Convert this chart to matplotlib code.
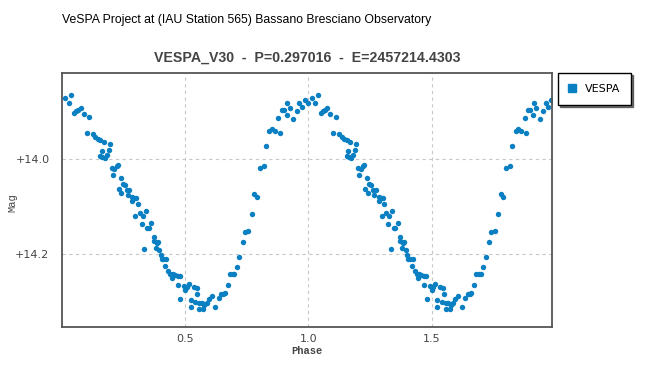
import matplotlib.pyplot as plt
from matplotlib.lines import Line2D
from matplotlib.ticker import FuncFormatter

# folded light curve of VESPA_V30, phase 0..1 (plotted twice)
phase = [0.0135, 0.027, 0.038, 0.050, 0.058, 0.066, 0.076, 0.088, 0.111, 0.101,
         0.124, 0.135, 0.145, 0.155, 0.169, 0.193, 0.161, 0.189, 0.155, 0.164,
         0.174, 0.182, 0.203, 0.212, 0.223, 0.227, 0.205, 0.238, 0.247, 0.254,
         0.230, 0.241, 0.264, 0.273, 0.266, 0.285, 0.293, 0.301, 0.286, 0.309,
         0.297, 0.315, 0.328, 0.339, 0.324, 0.346, 0.353, 0.362, 0.374, 0.372,
         0.385, 0.389, 0.382, 0.334, 0.395, 0.401, 0.404, 0.412, 0.423, 0.420,
         0.432, 0.439, 0.446, 0.450, 0.459, 0.469, 0.477, 0.469, 0.481, 0.495,
         0.500, 0.507, 0.516, 0.534, 0.547, 0.549, 0.524, 0.541, 0.522, 0.558,
         0.568, 0.577, 0.558, 0.574, 0.588, 0.597, 0.609, 0.622, 0.636, 0.646,
         0.655, 0.662, 0.673, 0.682, 0.693, 0.699, 0.709, 0.720, 0.734, 0.743,
         0.757, 0.770, 0.781, 0.792, 0.804, 0.818, 0.828, 0.842, 0.851, 0.865,
         0.885, 0.878, 0.892, 0.901, 0.912, 0.915, 0.926, 0.939, 0.953, 0.964,
         0.973, 0.986, 0.999]
mag = [13.872, 13.883, 13.867, 13.904, 13.900, 13.897, 13.893, 13.907, 13.912, 13.947,
       13.949, 13.954, 13.959, 13.961, 13.966, 13.970, 13.984, 13.981, 13.995, 13.996,
       13.998, 13.993, 14.020, 14.021, 14.016, 14.013, 14.035, 14.042, 14.053, 14.056,
       14.065, 14.072, 14.067, 14.067, 14.077, 14.081, 14.082, 14.084, 14.090, 14.095,
       14.121, 14.114, 14.120, 14.110, 14.138, 14.146, 14.147, 14.135, 14.166, 14.173,
       14.177, 14.176, 14.188, 14.191, 14.192, 14.204, 14.211, 14.211, 14.211, 14.226,
       14.236, 14.242, 14.252, 14.244, 14.246, 14.247, 14.247, 14.267, 14.295, 14.268,
       14.277, 14.270, 14.265, 14.270, 14.272, 14.286, 14.298, 14.302, 14.313, 14.304,
       14.303, 14.309, 14.316, 14.316, 14.305, 14.296, 14.289, 14.313, 14.293, 14.286,
       14.286, 14.284, 14.267, 14.243, 14.243, 14.242, 14.229, 14.208, 14.176, 14.155,
       14.152, 14.117, 14.074, 14.081, 14.020, 14.016, 13.974, 13.942, 13.937, 13.942,
       13.947, 13.915, 13.898, 13.898, 13.909, 13.883, 13.893, 13.916, 13.900, 13.883,
       13.891, 13.877, 13.883]

x_ticks = [0.5, 1.0, 1.5]
y_ticks = [14.0, 14.2]

blue = "#0a80c2"
grey = "#444444"

fig = plt.figure(figsize=(6.61, 3.68), dpi=100)
ax = fig.add_axes([62/661, 1 - 327/368, 490/661, 254/368])

# plot the cycle twice
ax.plot(phase, mag, "o", color=blue, markersize=3.9, markeredgewidth=0)
ax.plot([p + 1 for p in phase], mag, "o", color=blue, markersize=3.9, markeredgewidth=0)

ax.set_xlim(0, 1.989)
ax.set_ylim(14.3545, 13.82)
ax.set_xticks(x_ticks)
ax.set_yticks(y_ticks)
ax.yaxis.set_major_formatter(FuncFormatter(lambda v, pos: f"+{v:.1f}"))
ax.tick_params(length=0, labelsize=8, labelcolor=grey)
ax.tick_params(axis="y", pad=9)
ax.tick_params(axis="x", pad=5)
ax.grid(True, color="#c8c8c8", linestyle=(0, (3, 3)), linewidth=0.8)
for s in ax.spines.values():
    s.set_color("#555555")
    s.set_linewidth(1.3)

mono = ["Liberation Mono", "DejaVu Sans Mono"]
fig.text(307/661, 1 - 351/368, "Phase", family=mono, fontsize=7.5, color=grey,
         ha="center", va="center", fontweight="bold")
fig.text(12/661, 1 - 203/368, "Mag", family=mono, fontsize=7.5, color=grey,
         ha="center", va="center", rotation=90)

fig.text(62/661, 1 - 20/368, "VeSPA Project at (IAU Station 565) Bassano Bresciano Observatory",
         family="Liberation Sans", fontsize=8.8, va="center", ha="left")
fig.text(307/661, 1 - 58/368, "VESPA_V30  -  P=0.297016  -  E=2457214.4303",
         family="Liberation Sans", fontsize=10.2, fontweight="bold", color=grey,
         va="center", ha="center")

handle = Line2D([], [], marker="s", linestyle="", color=blue, markersize=6)
ax.legend([handle], ["VESPA"], loc="upper left", bbox_to_anchor=(558/661, 1 - 72.7/368),
          bbox_transform=fig.transFigure, borderaxespad=0, fancybox=False,
          edgecolor="black", framealpha=1, fontsize=8, handlelength=0.6,
          handletextpad=0.8, borderpad=1.0,
          shadow={"ox": 1.5, "oy": -1.5, "color": "black"})

plt.savefig("out.png", dpi=100)
